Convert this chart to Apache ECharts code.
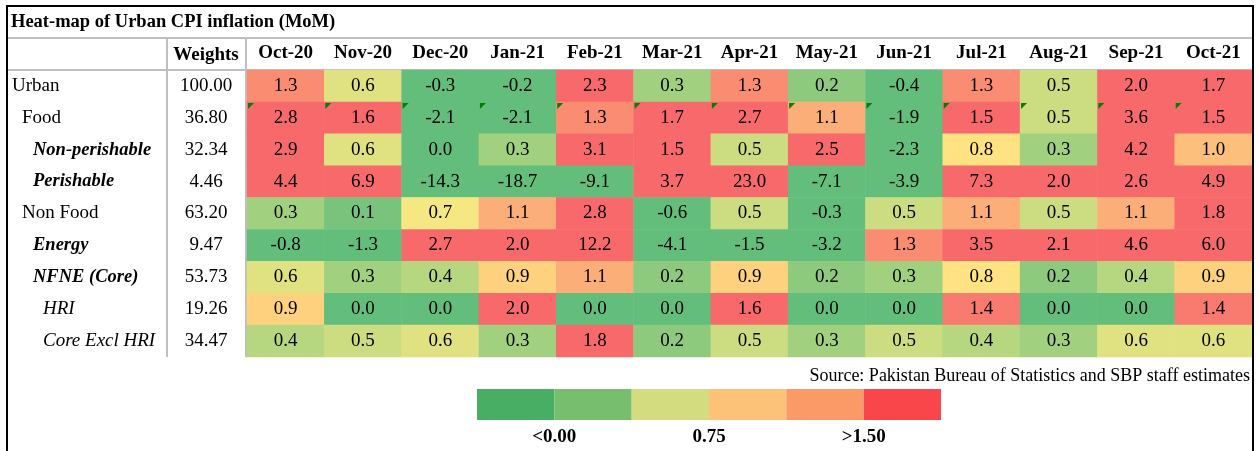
<!DOCTYPE html>
<html>
<head>
<meta charset="utf-8">
<title>Heat-map of Urban CPI inflation (MoM)</title>
<style>
  * { margin: 0; padding: 0; }
  body { background: #ffffff; }
  #chart { width: 1256px; height: 451px; }
</style>
</head>
<body>
<div id="chart"></div>
<script src="https://cdn.jsdelivr.net/npm/echarts@6/dist/echarts.min.js"></script>
<script>
// table data (MoM inflation, %)
var months = ['Oct-20', 'Nov-20', 'Dec-20', 'Jan-21', 'Feb-21', 'Mar-21', 'Apr-21',
              'May-21', 'Jun-21', 'Jul-21', 'Aug-21', 'Sep-21', 'Oct-21'];
var rows = ['Urban', 'Food', 'Non-perishable', 'Perishable', 'Non Food',
            'Energy', 'NFNE (Core)', 'HRI', 'Core Excl HRI'];
var weights = ['100.00', '36.80', '32.34', '4.46', '63.20', '9.47', '53.73', '19.26', '34.47'];

var urban         = [1.3, 0.6, -0.3, -0.2, 2.3, 0.3, 1.3, 0.2, -0.4, 1.3, 0.5, 2.0, 1.7];
var food          = [2.8, 1.6, -2.1, -2.1, 1.3, 1.7, 2.7, 1.1, -1.9, 1.5, 0.5, 3.6, 1.5];
var nonPerishable = [2.9, 0.6, 0.0, 0.3, 3.1, 1.5, 0.5, 2.5, -2.3, 0.8, 0.3, 4.2, 1.0];
var perishable    = [4.4, 6.9, -14.3, -18.7, -9.1, 3.7, 23.0, -7.1, -3.9, 7.3, 2.0, 2.6, 4.9];
var nonFood       = [0.3, 0.1, 0.7, 1.1, 2.8, -0.6, 0.5, -0.3, 0.5, 1.1, 0.5, 1.1, 1.8];
var energy        = [-0.8, -1.3, 2.7, 2.0, 12.2, -4.1, -1.5, -3.2, 1.3, 3.5, 2.1, 4.6, 6.0];
var nfne          = [0.6, 0.3, 0.4, 0.9, 1.1, 0.2, 0.9, 0.2, 0.3, 0.8, 0.2, 0.4, 0.9];
var hri           = [0.9, 0.0, 0.0, 2.0, 0.0, 0.0, 1.6, 0.0, 0.0, 1.4, 0.0, 0.0, 1.4];
var coreExclHri   = [0.4, 0.5, 0.6, 0.3, 1.8, 0.2, 0.5, 0.3, 0.5, 0.4, 0.3, 0.6, 0.6];

var flaggedRow = 'Food';   // cells carrying the little green corner mark

// colour key under the table
var legendBoxes = ['b1', 'b2', 'b3', 'b4', 'b5', 'b6'];
var legendTicks = ['', '<0.00', '', '0.75', '', '>1.50', ''];

var rowValues = [urban, food, nonPerishable, perishable, nonFood, energy, nfne, hri, coreExclHri];
var heatData = [];
rowValues.forEach(function (vals, i) {
    vals.forEach(function (v, j) {
        heatData.push([j, i, v]);
    });
});
var flagData = months.map(function (m) { return [m, flaggedRow]; });

var serif = 'Liberation Serif';
var rowStyle = ['l0', 'l1', 'l2', 'l2', 'l1', 'l2', 'l2', 'l3', 'l3'];
var grey = '#bfbfbf';

var chart = echarts.init(document.getElementById('chart'));
var option = {
    animation: false,
    color: ['#48ae64', '#77be6e', '#d3dc7e', '#fcc277', '#fa9a66', '#f8464a'],
    textStyle: { fontFamily: serif, color: '#000' },
    grid: [
        { left: 247, right: 4, top: 70, bottom: 94 },
        { left: 477, width: 464, top: 389, height: 31 }
    ],
    xAxis: [
        {
            type: 'category', data: months, gridIndex: 0, position: 'top',
            axisLine: { show: false }, axisTick: { show: false }, splitLine: { show: false },
            axisLabel: {
                interval: 0, hideOverlap: false,
                fontFamily: serif, fontSize: 19, fontWeight: 'bold', color: '#000', margin: 7
            }
        },
        {
            type: 'category', data: legendBoxes, gridIndex: 1,
            axisLine: { show: false }, axisTick: { show: false }, axisLabel: { show: false }
        },
        {
            type: 'value', gridIndex: 1, position: 'bottom', min: 0, max: 6, interval: 1,
            axisLine: { show: false }, axisTick: { show: false }, splitLine: { show: false },
            axisLabel: {
                fontFamily: serif, fontSize: 19, fontWeight: 'bold', color: '#000', margin: 8,
                formatter: function (v) { return legendTicks[v] || ''; }
            }
        }
    ],
    yAxis: [
        {
            type: 'category', data: rows, gridIndex: 0, inverse: true, position: 'left',
            axisLine: { show: false }, axisTick: { show: false },
            axisLabel: {
                interval: 0, align: 'left', margin: 235, color: '#000',
                formatter: function (v, i) { return '{' + rowStyle[i] + '|' + v + '}'; },
                rich: {
                    l0: { fontFamily: serif, fontSize: 19, padding: [0, 0, 0, 0] },
                    l1: { fontFamily: serif, fontSize: 19, padding: [0, 0, 0, 10] },
                    l2: { fontFamily: serif, fontSize: 18.5, fontWeight: 'bold', fontStyle: 'italic', padding: [0, 0, 0, 21] },
                    l3: { fontFamily: serif, fontSize: 19, fontStyle: 'italic', padding: [0, 0, 0, 31] }
                }
            }
        },
        {
            type: 'category', data: weights, gridIndex: 0, inverse: true, position: 'left', offset: 0,
            axisLine: { show: false }, axisTick: { show: false },
            axisLabel: { interval: 0, align: 'center', margin: 41, fontFamily: serif, fontSize: 19, color: '#000' }
        },
        {
            type: 'value', gridIndex: 1, min: 0, max: 1, show: false
        }
    ],
    visualMap: {
        type: 'continuous', show: false, seriesIndex: 0, dimension: 2,
        min: 0, max: 1.5,
        inRange: { color: ['#63be7b', '#ffeb84', '#f8696b'] }
    },
    graphic: [
        { type: 'rect', shape: { x: 7, y: 6, width: 1246, height: 460 }, style: { fill: null, stroke: '#000', lineWidth: 2 }, z: 10 },
        { type: 'line', shape: { x1: 8, y1: 38, x2: 1252, y2: 38 }, style: { stroke: grey, lineWidth: 2 } },
        { type: 'line', shape: { x1: 8, y1: 70, x2: 1252, y2: 70 }, style: { stroke: grey, lineWidth: 2 } },
        { type: 'line', shape: { x1: 167, y1: 38, x2: 167, y2: 357 }, style: { stroke: grey, lineWidth: 2 } },
        { type: 'line', shape: { x1: 246, y1: 38, x2: 246, y2: 357 }, style: { stroke: grey, lineWidth: 2 } },
        {
            type: 'text', x: 11, y: 22,
            style: { text: 'Heat-map of Urban CPI inflation (MoM)', font: 'bold 18.5px "Liberation Serif"', fill: '#000', textVerticalAlign: 'middle' }
        },
        {
            type: 'text', x: 206, y: 55,
            style: { text: 'Weights', font: 'bold 19px "Liberation Serif"', fill: '#000', textAlign: 'center', textVerticalAlign: 'middle' }
        },
        {
            type: 'text', x: 1250, y: 376,
            style: { text: 'Source: Pakistan Bureau of Statistics and SBP staff estimates', font: '18px "Liberation Serif"', fill: '#000', textAlign: 'right', textVerticalAlign: 'middle' }
        }
    ],
    series: [
        {
            type: 'heatmap', xAxisIndex: 0, yAxisIndex: 0, data: heatData,
            label: {
                show: true, fontFamily: serif, fontSize: 19, color: '#000',
                formatter: function (p) { return p.value[2].toFixed(1); }
            },
            emphasis: { disabled: true }
        },
        {
            type: 'custom', xAxisIndex: 0, yAxisIndex: 0, data: flagData, z: 5,
            renderItem: function (params, api) {
                var c = api.coord([api.value(0), api.value(1)]);
                var s = api.size([1, 1]);
                var x0 = c[0] - s[0] / 2 + 1, y0 = c[1] - s[1] / 2 + 1;
                return {
                    type: 'polygon',
                    shape: { points: [[x0, y0], [x0 + 6, y0], [x0, y0 + 6]] },
                    style: { fill: '#008000' }
                };
            }
        },
        {
            type: 'bar', xAxisIndex: 1, yAxisIndex: 2, colorBy: 'data',
            data: legendBoxes.map(function () { return 1; }),
            barCategoryGap: 0, silent: true
        }
    ]
};
chart.setOption(option);
</script>
</body>
</html>
